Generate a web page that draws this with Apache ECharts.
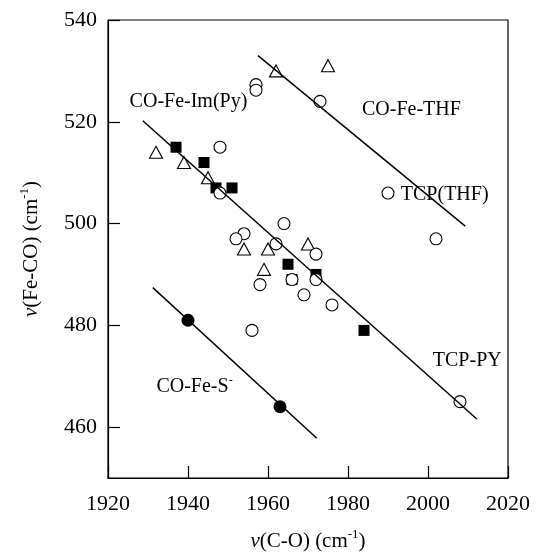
<!DOCTYPE html>
<html>
<head>
<meta charset="utf-8">
<script src="https://cdn.jsdelivr.net/npm/echarts@6/dist/echarts.min.js"></script>
<style>
  html, body { margin: 0; padding: 0; background: #fff; }
  #chart { width: 540px; height: 554px; }
</style>
</head>
<body>
<div id="chart"></div>
<script>
// ν(Fe-CO) vs ν(C-O) correlation for heme carbonyl adducts

// Open circles
const openCircles = [
  [1957, 527.3], [1957, 526.2], [1973, 524], [1948, 515], [1948, 506],
  [1964, 500], [1954, 498], [1952, 497], [1962, 496], [1972, 494],
  [1966, 489], [1972, 489], [1958, 488], [1969, 486], [1976, 484],
  [1956, 479], [1990, 506], [2002, 497], [2008, 465]
];
// Open triangles
const openTriangles = [
  [1962, 530], [1975, 531], [1932, 514], [1939, 512], [1945, 509],
  [1954, 495], [1960, 495], [1970, 496], [1959, 491]
];
// Filled squares
const filledSquares = [
  [1937, 515], [1944, 512], [1947, 507], [1951, 507], [1965, 492],
  [1966, 489], [1972, 490], [1984, 479]
];
// Filled circles (thiolate)
const filledCircles = [[1940, 481], [1963, 464]];

// Correlation lines (end points)
const lineTHF = [[1957.5, 533], [2009.3, 499.5]];
const lineImPy = [[1928.7, 520.2], [2012.2, 461.6]];
const lineS = [[1931.2, 487.4], [1972.2, 457.8]];

// Annotation texts with anchor points
const annotations = [
  [1925.4, 524.0, '{t|CO-Fe-Im(Py)}'],
  [1983.5, 522.4, '{t|CO-Fe-THF}'],
  [1993.2, 505.6, '{t|TCP(THF)}'],
  [2001.2, 473.0, '{t|TCP-PY}'],
  [1932.1, 468.0, '{t|CO-Fe-S}{sup|-}']
];

const xTicks = [1920, 1940, 1960, 1980, 2000, 2020];
const yTicks = [460, 480, 500, 520, 540];

const FONT = '"Liberation Serif", "Times New Roman", serif';

const chart = echarts.init(document.getElementById('chart'), null, { renderer: 'canvas' });

const lineSeries = (d) => ({
  type: 'line', data: d, symbol: 'none', z: 10,
  lineStyle: { color: '#000', width: 1.5 }, silent: true, animation: false
});

const nameStyle = {
  fontFamily: FONT, fontSize: 21, color: '#000',
  rich: {
    i: { fontFamily: FONT, fontSize: 21, fontStyle: 'italic', color: '#000' },
    sup: { fontFamily: FONT, fontSize: 13, color: '#000', verticalAlign: 'top', lineHeight: 26 }
  }
};

const tickLabel = (margin, values) => ({
  fontFamily: FONT, fontSize: 22, color: '#000', margin: margin, customValues: values,
  formatter: (v) => '{v|' + v + '}',
  rich: { v: { fontFamily: FONT, fontSize: 22, color: '#000' } }
});

chart.setOption({
  animation: false,
  backgroundColor: '#fff',
  textStyle: { fontFamily: FONT, color: '#000' },
  grid: {
    left: 108, right: 32, top: 20, bottom: 76,
    containLabel: false, outerBoundsMode: 'none',
    show: true, borderColor: '#000', borderWidth: 1.2, backgroundColor: 'transparent'
  },
  xAxis: {
    type: 'value', min: 1920, max: 2020, interval: 20,
    name: '{i|ν}(C-O) (cm{sup|-1})',
    nameLocation: 'middle', nameGap: 50,
    nameTextStyle: nameStyle,
    axisLine: { show: true, lineStyle: { color: '#000', width: 1.2 } },
    axisTick: { show: true, inside: true, length: 12, customValues: xTicks, lineStyle: { color: '#000', width: 1.2 } },
    axisLabel: tickLabel(15, xTicks),
    splitLine: { show: false }
  },
  yAxis: {
    type: 'value', min: 450, max: 540,
    name: '{i|ν}(Fe-CO) (cm{sup|-1})',
    nameLocation: 'middle', nameGap: 64, nameRotate: 90,
    nameTextStyle: nameStyle,
    axisLine: { show: true, lineStyle: { color: '#000', width: 1.2 } },
    axisTick: { show: true, inside: true, length: 12, customValues: yTicks, lineStyle: { color: '#000', width: 1.2 } },
    axisLabel: tickLabel(11, yTicks),
    splitLine: { show: false }
  },
  series: [
    {
      type: 'scatter', data: openTriangles, symbol: 'triangle', symbolSize: [13, 12], z: 2,
      itemStyle: { color: '#fff', borderColor: '#000', borderWidth: 1.1, opacity: 1 }
    },
    {
      type: 'scatter', data: filledSquares, symbol: 'rect', symbolSize: 11, z: 3,
      itemStyle: { color: '#000', borderColor: '#000', borderWidth: 0, opacity: 1 }
    },
    {
      type: 'scatter', data: openCircles, symbol: 'circle', symbolSize: 12, z: 4,
      itemStyle: { color: '#fff', borderColor: '#000', borderWidth: 1.1, opacity: 1 }
    },
    {
      type: 'scatter', data: filledCircles, symbol: 'circle', symbolSize: 13, z: 5,
      itemStyle: { color: '#000', opacity: 1 }
    },
    lineSeries(lineTHF),
    lineSeries(lineImPy),
    lineSeries(lineS),
    {
      type: 'scatter', data: annotations, symbolSize: 0, z: 20, silent: true,
      itemStyle: { opacity: 1 },
      label: {
        show: true, position: 'right', distance: 0, opacity: 1,
        formatter: (p) => p.data[2],
        rich: {
          t: { fontFamily: FONT, fontSize: 20, color: '#000' },
          sup: { fontFamily: FONT, fontSize: 12, color: '#000', verticalAlign: 'top', lineHeight: 24 }
        }
      }
    }
  ]
});
</script>
</body>
</html>
